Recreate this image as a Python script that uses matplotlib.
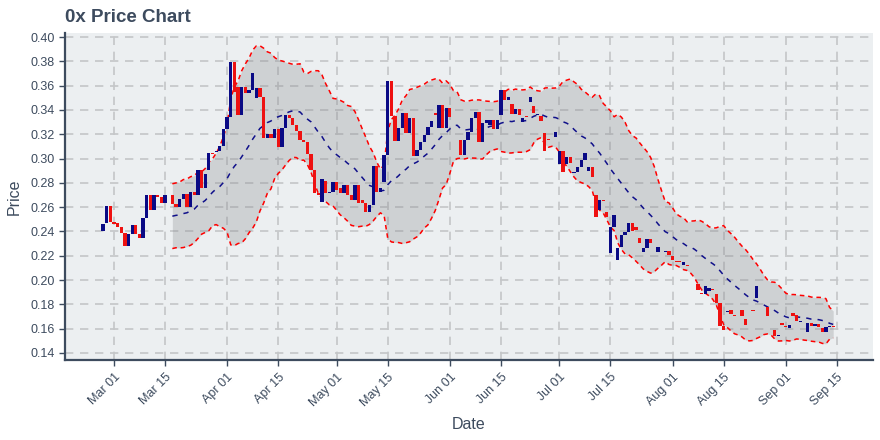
import matplotlib
matplotlib.use("Agg")
import matplotlib.pyplot as plt
import matplotlib.dates as mdates
import pandas as pd
import numpy as np

start_date = "2019-02-26"
opens = [
    0.2400, 0.2467, 0.2610, 0.2475, 0.2466, 0.2436, 0.2390, 0.2283, 0.2378, 0.2452,
    0.2378, 0.2348, 0.2510, 0.2700, 0.2580, 0.2700, 0.2680, 0.2638, 0.2700, 0.2700,
    0.2628, 0.2598, 0.2669, 0.2708, 0.2598, 0.2727, 0.2699, 0.2905, 0.2755, 0.2905,
    0.3045, 0.3050, 0.3058, 0.3106, 0.3243, 0.3344, 0.3797, 0.3590, 0.3360, 0.3590,
    0.3540, 0.3560, 0.3498, 0.3580, 0.3510, 0.3168, 0.3200, 0.3168, 0.3243, 0.3094,
    0.3251, 0.3360, 0.3330, 0.3276, 0.3223, 0.3155, 0.3140, 0.3036, 0.2907, 0.2720,
    0.2646, 0.2816, 0.2720, 0.2728, 0.2805, 0.2756, 0.2720, 0.2780, 0.2698, 0.2660,
    0.2780, 0.2660, 0.2632, 0.2563, 0.2621, 0.2935, 0.2728, 0.2810, 0.3030, 0.3636,
    0.3347, 0.3146, 0.3250, 0.3375, 0.3210, 0.3333, 0.3017, 0.3072, 0.3140, 0.3196,
    0.3256, 0.3375, 0.3250, 0.3438, 0.3250, 0.3416, 0.3250, 0.3153, 0.3153, 0.3030,
    0.3153, 0.3222, 0.3331, 0.3386, 0.3140, 0.3290, 0.3277, 0.3318, 0.3240, 0.3359,
    0.3564, 0.3482, 0.3450, 0.3367, 0.3405, 0.3304, 0.3350, 0.3467, 0.3433, 0.3360,
    0.3350, 0.3208, 0.3160, 0.3180, 0.3180, 0.2955, 0.3064, 0.2955, 0.3015, 0.2879,
    0.2893, 0.2928, 0.2988, 0.2895, 0.2933, 0.2697, 0.2574, 0.2656, 0.2562, 0.2220,
    0.2439, 0.2165, 0.2274, 0.2370, 0.2392, 0.2466, 0.2433, 0.2349, 0.2234, 0.2267,
    0.2338, 0.2352, 0.2229, 0.2250, 0.2234, 0.2240, 0.2194, 0.2158, 0.2153, 0.2126,
    0.2126, 0.2100, 0.2030, 0.1971, 0.1890, 0.1882, 0.1912, 0.1925, 0.1882, 0.1808,
    0.1618, 0.1740, 0.1754, 0.1713, 0.1759, 0.1754, 0.1678, 0.1708, 0.1751, 0.1854,
    0.1800, 0.1797, 0.1781, 0.1650, 0.1590, 0.1542, 0.1650, 0.1620, 0.1607, 0.1732,
    0.1713, 0.1657, 0.1630, 0.1569, 0.1645, 0.1618, 0.1637, 0.1604, 0.1569, 0.1616,
    0.1622,
]
closes = [
    0.2460, 0.2610, 0.2475, 0.2465, 0.2436, 0.2390, 0.2283, 0.2378, 0.2452, 0.2378,
    0.2348, 0.2510, 0.2700, 0.2580, 0.2700, 0.2680, 0.2638, 0.2700, 0.2700, 0.2627,
    0.2598, 0.2669, 0.2708, 0.2598, 0.2727, 0.2699, 0.2905, 0.2755, 0.2875, 0.3043,
    0.3035, 0.3058, 0.3106, 0.3243, 0.3344, 0.3797, 0.3545, 0.3360, 0.3590, 0.3536,
    0.3560, 0.3700, 0.3580, 0.3510, 0.3168, 0.3200, 0.3168, 0.3243, 0.3094, 0.3251,
    0.3360, 0.3330, 0.3276, 0.3223, 0.3155, 0.3140, 0.3036, 0.2907, 0.2720, 0.2698,
    0.2830, 0.2720, 0.2728, 0.2805, 0.2742, 0.2720, 0.2780, 0.2698, 0.2660, 0.2780,
    0.2632, 0.2632, 0.2563, 0.2621, 0.2935, 0.2728, 0.2756, 0.3030, 0.3636, 0.3347,
    0.3146, 0.3250, 0.3375, 0.3210, 0.3333, 0.3017, 0.3072, 0.3140, 0.3196, 0.3256,
    0.3306, 0.3355, 0.3438, 0.3250, 0.3416, 0.3339, 0.3250, 0.3153, 0.3030, 0.3153,
    0.3222, 0.3331, 0.3386, 0.3140, 0.3290, 0.3318, 0.3318, 0.3240, 0.3318, 0.3564,
    0.3482, 0.3510, 0.3367, 0.3405, 0.3359, 0.3330, 0.3340, 0.3510, 0.3373, 0.3366,
    0.3312, 0.3066, 0.3152, 0.3180, 0.3222, 0.3064, 0.2887, 0.3015, 0.2960, 0.2893,
    0.2928, 0.2988, 0.3042, 0.2933, 0.2852, 0.2520, 0.2656, 0.2648, 0.2516, 0.2439,
    0.2535, 0.2266, 0.2370, 0.2392, 0.2466, 0.2406, 0.2411, 0.2308, 0.2267, 0.2338,
    0.2302, 0.2357, 0.2270, 0.2250, 0.2239, 0.2207, 0.2166, 0.2152, 0.2147, 0.2147,
    0.2112, 0.2100, 0.2030, 0.1922, 0.1884, 0.1950, 0.1931, 0.1920, 0.1808, 0.1623,
    0.1585, 0.1745, 0.1721, 0.1708, 0.1764, 0.1700, 0.1631, 0.1703, 0.1746, 0.1950,
    0.1800, 0.1792, 0.1700, 0.1650, 0.1536, 0.1547, 0.1631, 0.1615, 0.1629, 0.1708,
    0.1667, 0.1662, 0.1630, 0.1650, 0.1618, 0.1637, 0.1610, 0.1569, 0.1610, 0.1621,
    0.1617,
]
yticks = [0.14, 0.16, 0.18, 0.20, 0.22, 0.24, 0.26, 0.28, 0.30, 0.32, 0.34, 0.36, 0.38, 0.40]

txt = "#3d4b5e"
plt.rcParams['font.family'] = ['Liberation Sans', 'DejaVu Sans']

dates = pd.date_range(start_date, periods=len(closes), freq="D")
df = pd.DataFrame({"open": opens, "close": closes}, index=dates)
mid = df["close"].rolling(20).mean()
sd = df["close"].rolling(20).std(ddof=0)
upper = mid + 2 * sd
lower = mid - 2 * sd

fig = plt.figure(figsize=(8.8, 4.4), dpi=100)
ax = fig.add_axes([65 / 880, 80 / 440, 808 / 880, 327 / 440])
ax.set_facecolor("#eceff1")

x = mdates.date2num(dates)
ax.fill_between(x, lower.values, upper.values, color="#8a8d90", alpha=0.3, lw=0, zorder=1)
ax.plot(x, upper.values, color="red", lw=1.1, ls=(0, (3, 2.5)), zorder=3)
ax.plot(x, lower.values, color="red", lw=1.1, ls=(0, (3, 2.5)), zorder=3)
ax.plot(x, mid.values, color="#10108a", lw=1.1, ls=(0, (3.5, 4)), zorder=3)

o = df["open"].values
c = df["close"].values
cols = np.where(c >= o, "#0a0a85", "#ee1111")
ax.bar(x, c - o, bottom=o, width=0.9, color=cols, lw=0, zorder=4)

ax.grid(True, color="#c4c6c8", ls=(0, (5, 4)), lw=1.2, zorder=0)
ax.set_axisbelow(True)

m01 = mdates.date2num(pd.Timestamp("2019-03-01"))
ax.set_xlim(m01 - 13.4, m01 + 207.9)
ax.set_ylim(0.1342, 0.4033)
ax.set_yticks(yticks)
ax.yaxis.set_major_formatter(matplotlib.ticker.FormatStrFormatter("%.2f"))

tick_dates = []
for mth in range(3, 10):
    tick_dates += [pd.Timestamp(2019, mth, 1), pd.Timestamp(2019, mth, 15)]
ax.set_xticks(mdates.date2num(tick_dates))
ax.set_xticklabels([d.strftime("%b %d") for d in tick_dates], rotation=45,
                   ha="right", rotation_mode="anchor")

for s in ["top", "right"]:
    ax.spines[s].set_visible(False)
for s in ["left", "bottom"]:
    ax.spines[s].set_color(txt)
    ax.spines[s].set_linewidth(1.6)
ax.tick_params(colors=txt, labelsize=9, length=4, width=1)
ax.tick_params(axis="x", pad=4)

ax.set_xlabel("Date", fontsize=11.5, color=txt, labelpad=6)
ax.set_ylabel("Price", fontsize=11.5, color=txt, labelpad=6)
fig.text(65 / 880, 1 - 17 / 440, "0x Price Chart", fontsize=13.5, weight="bold",
         color=txt, va="center", ha="left")

fig.savefig("out.png", dpi=100)
